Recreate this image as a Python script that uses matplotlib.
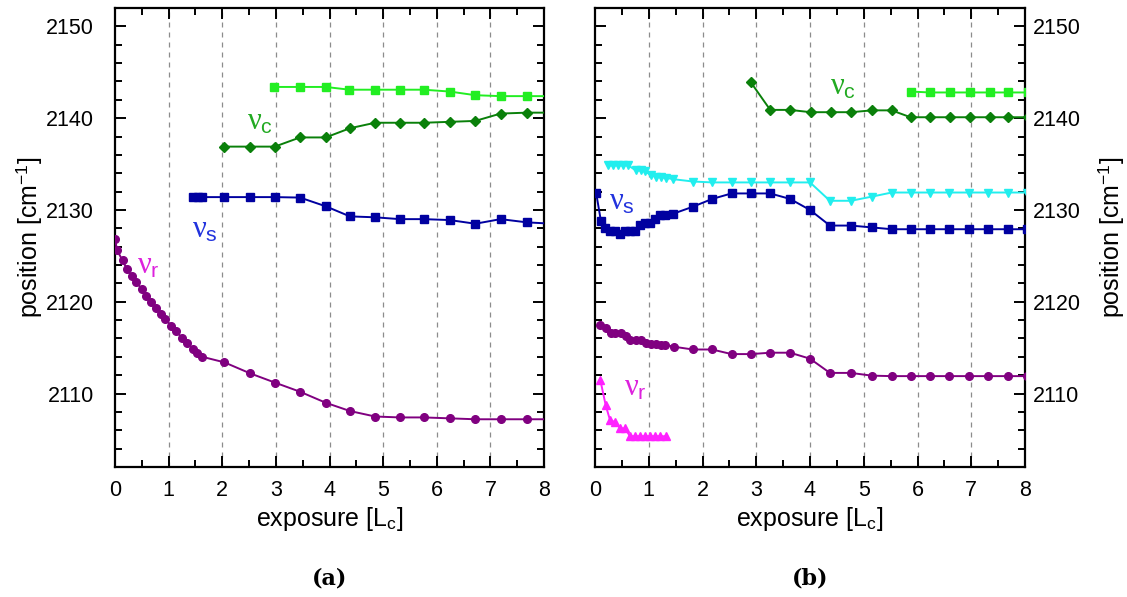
import matplotlib
matplotlib.use("Agg")
import matplotlib.pyplot as plt
from matplotlib.ticker import MultipleLocator

plt.rcParams["font.family"] = ["Liberation Sans", "DejaVu Sans"]
plt.rcParams["mathtext.fontset"] = "custom"
plt.rcParams["mathtext.rm"] = "Liberation Sans"
plt.rcParams["mathtext.it"] = "Liberation Serif"

# ---- panel (a) ----
a_r_x = [0.0, 0.04, 0.14, 0.22, 0.31, 0.40, 0.50, 0.58, 0.67, 0.76, 0.85, 0.94, 1.04, 1.13,
         1.25, 1.35, 1.45, 1.53, 1.63, 2.04, 2.52, 2.98, 3.45, 3.93, 4.38, 4.85, 5.31, 5.76,
         6.24, 6.72, 7.19, 7.68, 8.16]
a_r_y = [2126.8, 2125.6, 2124.5, 2123.6, 2122.8, 2122.1, 2121.4, 2120.6, 2120.0, 2119.3,
         2118.7, 2118.1, 2117.4, 2116.8, 2116.1, 2115.5, 2114.9, 2114.4, 2114.0, 2113.4,
         2112.2, 2111.2, 2110.2, 2109.0, 2108.1, 2107.5, 2107.4, 2107.4, 2107.3, 2107.2,
         2107.2, 2107.2, 2107.2]

a_s_x = [1.46, 1.55, 1.63, 2.04, 2.51, 2.98, 3.45, 3.93, 4.38, 4.85, 5.31, 5.76, 6.24, 6.72,
         7.19, 7.68, 8.16]
a_s_y = [2131.4, 2131.4, 2131.4, 2131.4, 2131.4, 2131.4, 2131.35, 2130.4, 2129.3, 2129.2,
         2129.0, 2129.0, 2128.9, 2128.5, 2129.0, 2128.65, 2128.5]

a_c1_x = [2.04, 2.52, 2.98, 3.45, 3.93, 4.38, 4.85, 5.31, 5.76, 6.24, 6.72, 7.19, 7.68, 8.16]
a_c1_y = [2136.9, 2136.9, 2136.9, 2137.9, 2137.9, 2138.9, 2139.5, 2139.5, 2139.5, 2139.6,
          2139.7, 2140.5, 2140.6, 2140.6]

a_c2_x = [2.97, 3.45, 3.93, 4.37, 4.85, 5.31, 5.76, 6.24, 6.72, 7.19, 7.68, 8.16]
a_c2_y = [2143.4, 2143.4, 2143.4, 2143.1, 2143.1, 2143.1, 2143.1, 2142.9, 2142.5, 2142.4,
          2142.4, 2142.4]

# ---- panel (b) ----
b_r_x = [0.10, 0.20, 0.29, 0.38, 0.48, 0.57, 0.66, 0.76, 0.85, 0.94, 1.04, 1.13, 1.22, 1.31,
         1.47, 1.82, 2.18, 2.54, 2.90, 3.26, 3.63, 4.0, 4.37, 4.76, 5.15, 5.52, 5.87, 6.23,
         6.59, 6.96, 7.32, 7.68, 8.04]
b_r_y = [2117.45, 2117.1, 2116.65, 2116.65, 2116.65, 2116.3, 2115.8, 2115.8, 2115.8, 2115.55,
         2115.45, 2115.35, 2115.3, 2115.3, 2115.1, 2114.8, 2114.8, 2114.3, 2114.3, 2114.45,
         2114.45, 2113.8, 2112.25, 2112.25, 2111.95, 2111.9, 2111.9, 2111.9, 2111.9, 2111.9,
         2111.9, 2111.9, 2111.9]

b_s_x = [0.02, 0.11, 0.19, 0.28, 0.37, 0.47, 0.56, 0.65, 0.74, 0.84, 0.93, 1.02, 1.12, 1.21,
         1.30, 1.46, 1.82, 2.18, 2.54, 2.90, 3.26, 3.63, 4.0, 4.37, 4.76, 5.15, 5.52, 5.87,
         6.23, 6.59, 6.96, 7.32, 7.68, 8.04]
b_s_y = [2131.9, 2128.8, 2128.0, 2127.75, 2127.75, 2127.35, 2127.75, 2127.75, 2127.75, 2128.4,
         2128.6, 2128.6, 2129.0, 2129.4, 2129.4, 2129.6, 2130.35, 2131.2, 2131.8, 2131.8,
         2131.8, 2131.2, 2130.0, 2128.3, 2128.3, 2128.1, 2127.9, 2127.9, 2127.9, 2127.9,
         2127.9, 2127.9, 2127.9, 2127.9]

b_v_x = [0.25, 0.34, 0.43, 0.53, 0.62, 0.76, 0.85, 0.93, 1.04, 1.13, 1.23, 1.32, 1.46, 1.82,
         2.18, 2.54, 2.90, 3.26, 3.63, 4.0, 4.37, 4.76, 5.15, 5.52, 5.87, 6.23, 6.59, 6.96,
         7.32, 7.68, 8.04]
b_v_y = [2134.85, 2134.85, 2134.85, 2134.85, 2134.85, 2134.3, 2134.3, 2134.2, 2133.8, 2133.6,
         2133.55, 2133.5, 2133.35, 2133.1, 2133.0, 2133.0, 2133.0, 2133.0, 2133.0, 2133.0,
         2131.0, 2131.0, 2131.45, 2131.9, 2131.9, 2131.9, 2131.9, 2131.9, 2131.9, 2131.9,
         2131.9]

b_c1_x = [2.90, 3.26, 3.63, 4.01, 4.39, 4.77, 5.15, 5.52, 5.87, 6.23, 6.60, 6.98, 7.34, 7.69,
          8.05]
b_c1_y = [2143.9, 2140.9, 2140.9, 2140.65, 2140.65, 2140.65, 2140.85, 2140.85, 2140.1, 2140.1,
          2140.1, 2140.1, 2140.1, 2140.1, 2140.1]

b_c2_x = [5.87, 6.23, 6.60, 6.98, 7.34, 7.69, 8.05]
b_c2_y = [2142.9, 2142.8, 2142.8, 2142.8, 2142.8, 2142.8, 2142.8]

b_m_x = [0.10, 0.20, 0.28, 0.37, 0.47, 0.56, 0.65, 0.74, 0.84, 0.93, 1.02, 1.12, 1.21, 1.32]
b_m_y = [2111.45, 2108.7, 2107.1, 2106.9, 2106.2, 2106.2, 2105.35, 2105.35, 2105.35, 2105.35,
         2105.35, 2105.35, 2105.35, 2105.35]

PURPLE = "#800080"
BLUE = "#0000a0"
DKGREEN = "#0a800a"
LTGREEN = "#22ee22"
CYAN = "#22eeee"
MAGENTA = "#ff22ff"


def series(ax, x, y, color, marker, ms=5.5):
    ax.plot(x, y, color=color, marker=marker, ms=ms, lw=1.4, mec=color, mfc=color, zorder=3)


def style_axes(ax, right=False):
    ax.set_xlim(0, 8)
    ax.set_ylim(2102, 2152)
    ax.xaxis.set_major_locator(MultipleLocator(1))
    ax.xaxis.set_minor_locator(MultipleLocator(0.5))
    ax.yaxis.set_major_locator(MultipleLocator(10))
    ax.yaxis.set_minor_locator(MultipleLocator(2))
    ax.tick_params(which="both", direction="in", top=True, right=True, left=True, width=1.4)
    ax.tick_params(which="major", length=8, labelsize=15.5)
    ax.tick_params(which="minor", length=5)
    ax.tick_params(axis="x", which="major", pad=9)
    for sp in ax.spines.values():
        sp.set_linewidth(1.6)
    for gx in range(1, 8):
        ax.axvline(gx, color="#8c8c8c", lw=0.9, ls=(0, (4, 4)), zorder=1)
    ax.set_xlabel(r"exposure [L$_\mathrm{c}$]", fontsize=18, labelpad=3)
    if right:
        ax.yaxis.tick_right()
        ax.yaxis.set_ticks_position("both")
        ax.tick_params(axis="y", which="major", labelleft=False, labelright=True, pad=6)
        ax.yaxis.set_label_position("right")
        ax.set_ylabel(r"position [cm$^{-1}$]", fontsize=18)
        ax.yaxis.set_label_coords(1.165, 0.5)
    else:
        ax.tick_params(axis="y", which="major", pad=15)
        ax.set_ylabel(r"position [cm$^{-1}$]", fontsize=18)
        ax.yaxis.set_label_coords(-0.165, 0.5)


fig = plt.figure(figsize=(11.27, 5.97), dpi=100)
ax1 = fig.add_axes([115 / 1127, 1 - 467 / 597, 429 / 1127, 459 / 597])
ax2 = fig.add_axes([595 / 1127, 1 - 467 / 597, 430 / 1127, 459 / 597])

series(ax1, a_r_x, a_r_y, PURPLE, "o")
series(ax1, a_s_x, a_s_y, BLUE, "s")
series(ax1, a_c1_x, a_c1_y, DKGREEN, "D", ms=5)
series(ax1, a_c2_x, a_c2_y, LTGREEN, "s")
style_axes(ax1)

series(ax2, b_r_x, b_r_y, PURPLE, "o")
series(ax2, b_s_x, b_s_y, BLUE, "s")
series(ax2, b_v_x, b_v_y, CYAN, "v", ms=6)
series(ax2, b_c1_x, b_c1_y, DKGREEN, "D", ms=5)
series(ax2, b_c2_x, b_c2_y, LTGREEN, "s")
series(ax2, b_m_x, b_m_y, MAGENTA, "^", ms=6)
style_axes(ax2, right=True)

lab = dict(fontsize=22, ha="center", va="center")
ax1.text(2.70, 2139.6, r"$\nu_{\mathrm{c}}$", color="#22aa22", **lab)
ax1.text(1.68, 2127.9, r"$\nu_{\mathrm{s}}$", color="#2233dd", **lab)
ax1.text(0.63, 2124.0, r"$\nu_{\mathrm{r}}$", color="#dd22dd", **lab)
ax2.text(4.62, 2143.4, r"$\nu_{\mathrm{c}}$", color="#22aa22", **lab)
ax2.text(0.50, 2130.9, r"$\nu_{\mathrm{s}}$", color="#2233dd", **lab)
ax2.text(0.75, 2110.7, r"$\nu_{\mathrm{r}}$", color="#dd22dd", **lab)

fig.text(330 / 1127, 1 - 579 / 597, "(a)", ha="center", va="center",
         family="DejaVu Serif", weight="bold", fontsize=16)
fig.text(810 / 1127, 1 - 579 / 597, "(b)", ha="center", va="center",
         family="DejaVu Serif", weight="bold", fontsize=16)

fig.savefig("out.png", dpi=100)
